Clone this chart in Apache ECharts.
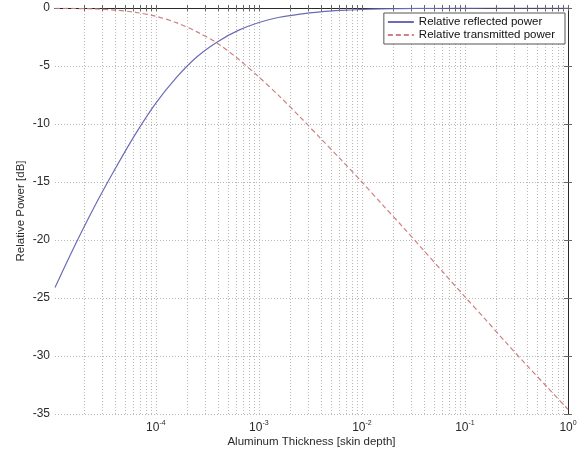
<!DOCTYPE html>
<html>
<head>
<meta charset="utf-8">
<title>Relative Power vs Aluminum Thickness</title>
<script src="https://cdn.jsdelivr.net/npm/echarts@6/dist/echarts.min.js"></script>
<style>
  html, body { margin: 0; padding: 0; background: #fff; }
  #chart { width: 586px; height: 455px; }
</style>
</head>
<body>
<div id="chart"></div>
<script>
// thickness in skin depths (at ~0.2 decade steps)
const thickness = [1.05e-5, 1.58e-5, 2.51e-5, 3.98e-5, 6.31e-5, 1e-4, 1.58e-4, 2.51e-4, 3.98e-4, 6.31e-4,
  1e-3, 1.58e-3, 2.51e-3, 3.98e-3, 6.31e-3, 1e-2, 1.58e-2, 2.51e-2, 3.98e-2, 6.31e-2,
  1e-1, 1.58e-1, 2.51e-1, 3.98e-1, 6.31e-1, 1]
// power in dB
const reflectedDb = [-24.1, -20.75, -17.2, -13.95, -10.9, -8.2, -6.0, -4.2, -2.9, -1.93,
  -1.25, -0.8, -0.52, -0.33, -0.21, -0.13, -0.08, -0.05, -0.03, -0.02,
  -0.01, 0, 0, 0, 0, 0]
const transmittedDb = [-0.02, -0.04, -0.08, -0.18, -0.37, -0.71, -1.26, -2.06, -3.05, -4.4,
  -5.95, -7.6, -9.4, -11.25, -13.1, -15.0, -16.95, -18.9, -20.9, -22.9,
  -24.9, -26.85, -28.85, -30.8, -32.7, -34.6]

const xMin = 1.05e-5
const labelledDecades = [-4, -3, -2, -1, 0]

// log-spaced tick positions 2..9 within every decade, plus the decades
const logTicks = []
for (let n = -5; n < 0; n++) {
  for (let k = 1; k < 10; k++) {
    const v = n + Math.log10(k)
    if (v > Math.log10(xMin)) logTicks.push(v)
  }
}
logTicks.push(0)

const font = 'Liberation Sans, Arial, sans-serif'
const axisColor = '#2a2a2a'
const tickColor = '#666'
const gridLine = { show: true, lineStyle: { type: [1, 2], color: '#b8b8b8', width: 1 } }

const chart = echarts.init(document.getElementById('chart'))

const xCommon = {
  type: 'value',
  min: Math.log10(xMin),
  max: 0,
  axisLine: { show: true, lineStyle: { color: axisColor } },
  axisTick: { show: true, inside: true, length: 3, customValues: logTicks, lineStyle: { color: tickColor } }
}
const yCommon = {
  type: 'value',
  min: -35,
  max: 0,
  interval: 5,
  axisLine: { show: true, lineStyle: { color: axisColor } },
  axisTick: { show: true, inside: true, length: 4, lineStyle: { color: tickColor } }
}

chart.setOption({
  animation: false,
  textStyle: { fontFamily: font },
  grid: { left: 55, right: 18, top: 8, bottom: 41 },
  xAxis: [
    Object.assign({}, xCommon, {
      position: 'bottom',
      splitLine: gridLine,
      axisLabel: {
        customValues: labelledDecades,
        margin: 6,
        formatter: v => '{b|10}{s|' + Math.round(v) + '}',
        rich: {
          b: { fontSize: 12, color: axisColor, fontFamily: font },
          s: { fontSize: 7, color: axisColor, fontFamily: font, verticalAlign: 'top', padding: [0, 0, 8, 0] }
        }
      },
      name: 'Aluminum Thickness [skin depth]',
      nameLocation: 'middle',
      nameGap: 22,
      nameMoveOverlap: false,
      nameTextStyle: { fontSize: 11.5, color: axisColor, fontFamily: font }
    }),
    Object.assign({}, xCommon, {
      position: 'top',
      splitLine: { show: false },
      axisLabel: { show: false }
    })
  ],
  yAxis: [
    Object.assign({}, yCommon, {
      position: 'left',
      splitLine: gridLine,
      axisLabel: { fontSize: 12, color: axisColor, margin: 5, fontFamily: font },
      name: 'Relative Power [dB]',
      nameLocation: 'middle',
      nameGap: 28,
      nameMoveOverlap: false,
      nameTextStyle: { fontSize: 11.5, color: axisColor, fontFamily: font }
    }),
    Object.assign({}, yCommon, {
      position: 'right',
      splitLine: { show: false },
      axisLabel: { show: false }
    })
  ],
  legend: {
    orient: 'vertical',
    right: 21,
    top: 13,
    padding: [3, 10, 3, 3],
    itemGap: 1,
    itemWidth: 26,
    itemHeight: 12,
    borderColor: '#555',
    borderWidth: 1,
    borderRadius: 0,
    backgroundColor: '#fff',
    itemStyle: { opacity: 0 },
    textStyle: { fontSize: 11.5, color: '#111', fontFamily: font },
    data: ['Relative reflected power', 'Relative transmitted power']
  },
  series: [
    {
      name: 'Relative reflected power',
      type: 'line',
      data: thickness.map((x, i) => [Math.log10(x), reflectedDb[i]]),
      smooth: 0.3,
      symbol: 'none',
      showSymbol: false,
      color: '#6b6bb6',
      lineStyle: { width: 1.2, color: '#6b6bb6' }
    },
    {
      name: 'Relative transmitted power',
      type: 'line',
      data: thickness.map((x, i) => [Math.log10(x), transmittedDb[i]]),
      smooth: 0.3,
      symbol: 'none',
      showSymbol: false,
      color: '#cf8080',
      lineStyle: { width: 1.2, color: '#cf8080', type: [5, 3] }
    }
  ]
})
</script>
</body>
</html>
